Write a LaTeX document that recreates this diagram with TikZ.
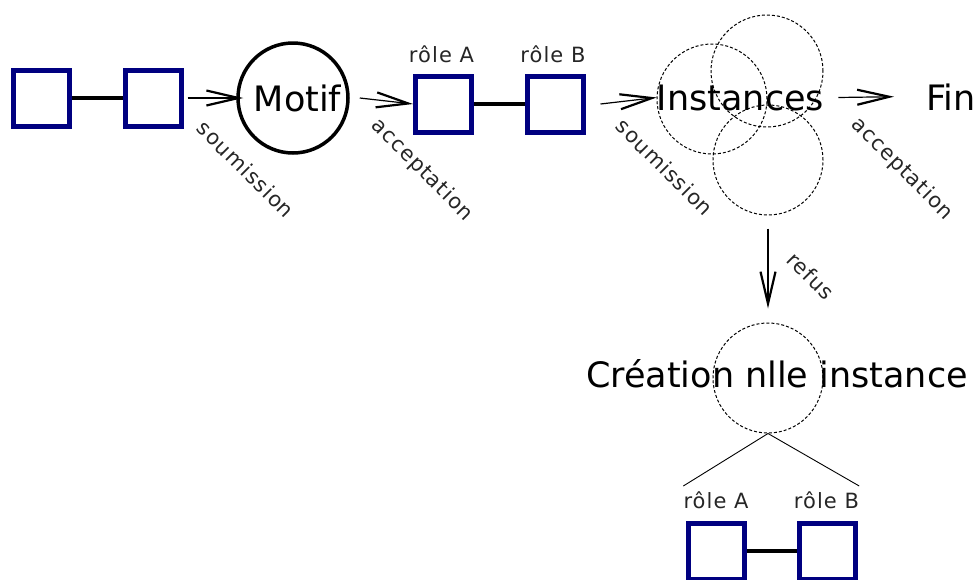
\documentclass[tikz,border=0pt]{standalone}
\usepackage{fontspec}
\setmainfont{DejaVu Sans}
\newfontfamily\smallfam[LetterSpace=5]{DejaVu Sans}
\usetikzlibrary{arrows.meta}
\definecolor{navyb}{RGB}{0,0,128}
\tikzset{
  sq/.style={draw=navyb, line width=5pt, minimum size=56pt, inner sep=0pt, fill=white},
  link/.style={line width=4.5pt, black},
  arr/.style={line width=1.2pt, -{Straight Barb[length=32pt,width=15pt,line width=2.2pt]}},
  big/.style={font=\fontsize{35}{40}\selectfont, inner sep=0pt, anchor=base},
  lab/.style={font=\smallfam\fontsize{21}{24}\selectfont, inner sep=0pt, text=black!85},
  role/.style={lab, anchor=base},
  dcirc/.style={draw, circle, line width=1pt, dash pattern=on 3pt off 2pt, inner sep=0pt},
}
\begin{document}
\begin{tikzpicture}[x=1pt,y=-1pt]
\useasboundingbox (0,0) rectangle (977,579);
\clip (0,0) rectangle (977,579);
% left pair
\node[sq] (s1) at (41.5,98) {};
\node[sq] (s2) at (153,98) {};
\draw[link] (s1.east) -- (s2.west);
% motif
\node[draw, circle, line width=3.5pt, minimum size=110pt, inner sep=0pt] (motifc) at (293,98) {};
\node[big] (motif) at (297.5,111) {Motif};
% role pair
\node[sq] (sA) at (443.5,104) {};
\node[sq] (sB) at (555,104) {};
\draw[link] (sA.east) -- (sB.west);
\node[role] (rA) at (441.5,62) {rôle A};
\node[role] (rB) at (553,62) {rôle B};
% instances
\node[dcirc, minimum size=110pt] (c1) at (712,99) {};
\node[dcirc, minimum size=112pt] (c2) at (767,71) {};
\node[dcirc, minimum size=110pt] (c3) at (768,160) {};
\node[big] (inst) at (740.5,110) {Instances};
\node[big] (fin) at (951,110) {Fin};
% creation
\node[dcirc, minimum size=110pt] (cr) at (768,378) {};
\node[big] (crt) at (777,387) {Création nlle instance};
\node[role] (rA2) at (716,508) {rôle A};
\node[role] (rB2) at (826.5,508) {rôle B};
\node[sq] (sA2) at (716.5,551) {};
\node[sq] (sB2) at (827,551) {};
\draw[link] (sA2.east) -- (sB2.west);
% arrows
\draw[arr] ([xshift=4pt]s2.east) -- ([xshift=7pt]motifc.west);
\draw[arr] ([xshift=10pt]motifc.east) -- (sA.west);
\draw[arr] ([xshift=15pt]sB.east) -- (inst.west);
\draw[arr] ([xshift=14pt]inst.east) -- ([xshift=-32pt]fin.west);
\draw[arr] ([yshift=-13pt]c3.south) -- ([yshift=14pt]cr.north);
\draw[line width=0.9pt] (cr.south) -- ([yshift=5pt]rA2.north west);
\draw[line width=0.9pt] (cr.south) -- ([yshift=5pt]rB2.north east);
% rotated labels
\node[lab, rotate=-45] (l1) at (246,169) {soumission};
\node[lab, rotate=-45] (l2) at (422,170) {acceptation};
\node[lab, rotate=-45] (l3) at (665,167) {soumission};
\node[lab, rotate=-45] (l4) at (902,169) {acceptation};
\node[lab, rotate=-45] (l5) at (811,276) {refus};
\end{tikzpicture}
\end{document}
